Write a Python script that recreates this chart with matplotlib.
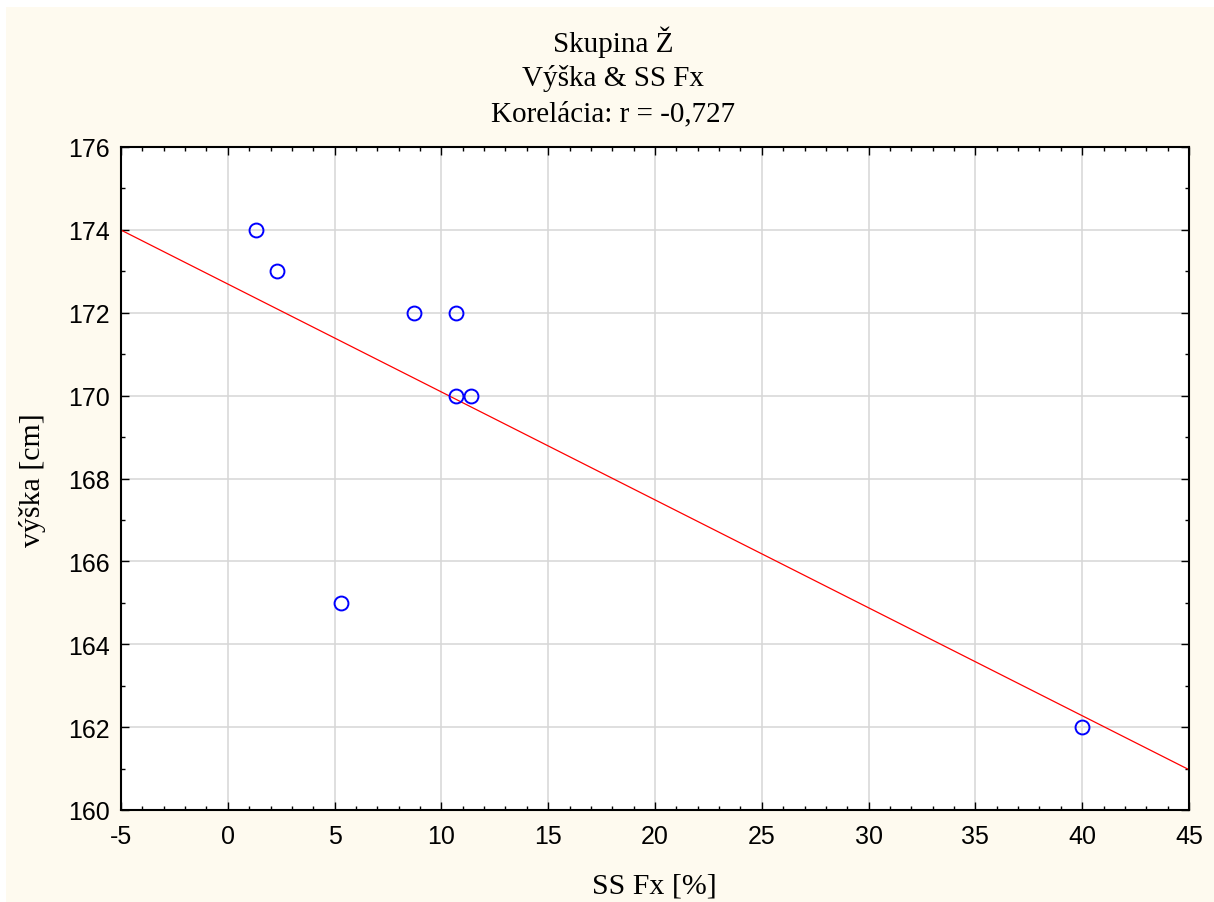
import numpy as np
import matplotlib
matplotlib.use("Agg")
import matplotlib.pyplot as plt
from matplotlib.patches import Rectangle
from matplotlib.ticker import MultipleLocator

plt.rcParams["axes.unicode_minus"] = False

# data
ss_fx = [1.3, 2.3, 8.7, 10.7, 10.7, 11.4, 5.3, 40.0]
vyska = [174, 173, 172, 172, 170, 170, 165, 162]
title_lines = ["Skupina Ž", "Výška & SS Fx", "Korelácia: r = -0,727"]

W, H = 1214, 903
fig = plt.figure(figsize=(W / 100, H / 100), dpi=100)
fig.patch.set_facecolor("white")
# cream panel (white strip left/top like the screenshot)
fig.add_artist(Rectangle((6 / W, 0), 1 - 6 / W, 1 - 8 / H,
                         transform=fig.transFigure, facecolor="#fefaef",
                         edgecolor="none", zorder=0))

ax = fig.add_axes([121 / W, 1 - 811 / H, (1189 - 121) / W, (811 - 148) / H])
ax.set_facecolor("white")
ax.set_xlim(-5, 45)
ax.set_ylim(160, 176)
ax.xaxis.set_major_locator(MultipleLocator(5))
ax.xaxis.set_minor_locator(MultipleLocator(1))
ax.yaxis.set_major_locator(MultipleLocator(2))
ax.yaxis.set_minor_locator(MultipleLocator(1))
ax.grid(True, which="major", color="#d6d6d6", lw=1.1, zorder=0)
ax.set_axisbelow(True)

for s in ax.spines.values():
    s.set_linewidth(1.5)
    s.set_color("black")

ax.tick_params(which="both", direction="in", top=True, right=True,
               labelsize=18, width=1.0, color="black")
ax.tick_params(which="major", length=6)
ax.tick_params(which="minor", length=3)
ax.tick_params(axis="y", pad=8)
ax.tick_params(axis="x", pad=10)
for lab in ax.get_xticklabels() + ax.get_yticklabels():
    lab.set_fontfamily("Liberation Sans")

# regression line
k, q = np.polyfit(ss_fx, vyska, 1)
xl = np.array(ax.get_xlim())
ax.plot(xl, k * xl + q, color="red", lw=0.9, zorder=2)

ax.plot(ss_fx, vyska, "o", ms=10, mfc="none", mec="blue", mew=1.4,
        zorder=3, clip_on=False)

# title, three lines
for txt, yb in zip(title_lines, [52, 86, 121]):
    fig.text(0.505, 1 - yb / H, txt, ha="center", va="baseline",
             fontsize=21, family="Liberation Serif")

fig.text(654 / W, 1 - 894 / H, "SS Fx [%]", ha="center", va="baseline",
         fontsize=21.5, family="Liberation Serif")
fig.text(33 / W, 1 - 480 / H, "výška [cm]", ha="center", va="center",
         rotation=90, fontsize=21.5, family="Liberation Serif")

fig.savefig("out.png", dpi=100, facecolor=fig.get_facecolor())
